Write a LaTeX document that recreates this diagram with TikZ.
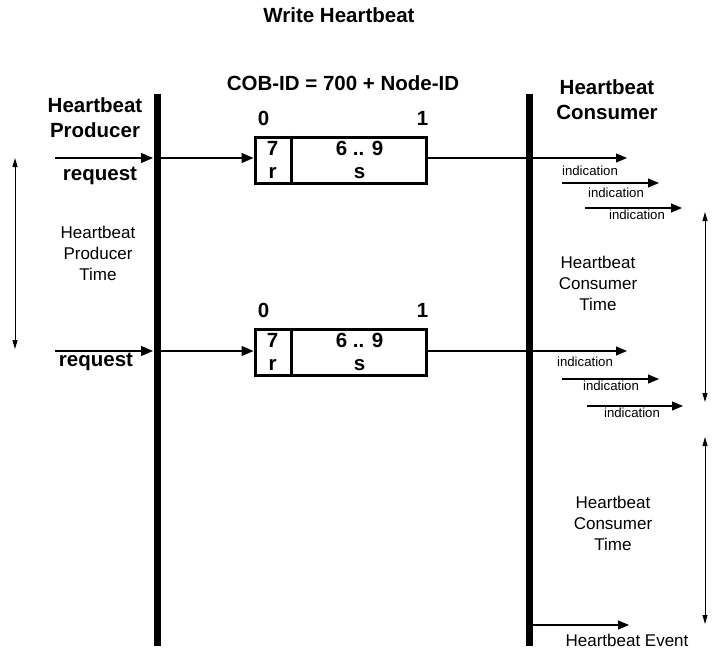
\documentclass[tikz,border=0pt]{standalone}
\usepackage{fontspec}
\setmainfont{Liberation Sans}
\usetikzlibrary{arrows.meta}
\tikzset{
  bold/.style={font=\fontsize{20.5}{25}\selectfont\bfseries,align=center},
  plain/.style={font=\fontsize{17}{21}\selectfont,align=center},
  tiny/.style={font=\fontsize{13.2}{14}\selectfont},
  msg/.style={draw,line width=3pt,minimum width=171pt,minimum height=46pt,inner sep=0pt},
  bar/.style={line width=7pt},
  sig/.style={line width=1.2pt,-{Triangle[length=12pt,width=10pt]}},
  ind/.style={line width=1.2pt,-{Triangle[length=11pt,width=9pt]}},
  span/.style={line width=1pt,{Triangle[length=9pt,width=5pt]}-{Triangle[length=9pt,width=5pt]}}
}
\begin{document}
\begin{tikzpicture}[x=1pt,y=-1pt,line join=miter]
\useasboundingbox (0,0) rectangle (714,650);
% titles
\node[bold] (title) at (339,15) {Write Heartbeat};
\node[bold] (cobid) at (343,83) {COB-ID = 700 + Node-ID};
\node[bold] (prod) at (95,118) {Heartbeat\\Producer};
\node[bold] (cons) at (607,100) {Heartbeat\\Consumer};
% the two lines
\coordinate (pT) at (157,94); \coordinate (pB) at (157,646);
\coordinate (cT) at (529.5,94); \coordinate (cB) at (529.5,646);
\draw[bar] (pT) -- (pB);
\draw[bar] (cT) -- (cB);
% messages
\foreach \i/\y in {A/160,B/352}{
  \node[msg] (msg\i) at (340.5,\y) {};
  \draw[line width=3pt] ([xshift=38pt]msg\i.north west) -- ([xshift=38pt]msg\i.south west);
  \node[bold] (zero\i) at ([shift={(10,-17)}]msg\i.north west) {0};
  \node[bold] (one\i) at ([shift={(-5,-17)}]msg\i.north east) {1};
  \node[bold] (seven\i) at ([shift={(19,-12)}]msg\i.west) {7};
  \node[bold] (r\i) at ([shift={(19,13)}]msg\i.west) {r};
  \node[bold] (nine\i) at ([shift={(19,-12)}]msg\i.center) {6 .. 9};
  \node[bold] (s\i) at ([shift={(19,13)}]msg\i.center) {s};
}
% arrows of the first message
\coordinate (inA) at (55,158);
\coordinate (pA) at (153,158); \coordinate (pA2) at (160,158);
\coordinate (cA) at (526,158); \coordinate (cA2) at (533,158);
\coordinate (oA) at (627,158);
\draw[sig] (inA) -- (pA);
\draw[sig] (pA2) -- (msgA.west |- pA2);
\draw[line width=1.2pt] (msgA.east |- cA) -- (cA);
\draw[ind] (cA2) -- (oA);
\node[bold] (reqA) at (100,176) {request};
% arrows of the second message
\coordinate (inB) at (55,351);
\coordinate (pB1) at (153,351); \coordinate (pB2) at (160,351);
\coordinate (cB1) at (526,351); \coordinate (cB2) at (533,351);
\coordinate (oB) at (627,351);
\draw[sig] (inB) -- (pB1);
\draw[sig] (pB2) -- (msgB.west |- pB2);
\draw[line width=1.2pt] (msgB.east |- cB1) -- (cB1);
\draw[ind] (cB2) -- (oB);
\node[bold] (reqB) at (96,362) {request};
% indications
\node[tiny] (indA1) at (590,171) {indication};
\coordinate (a2s) at (562,183); \coordinate (a2e) at (659,183);
\draw[ind] (a2s) -- (a2e);
\node[tiny] (indA2) at (616,193) {indication};
\coordinate (a3s) at (585,208); \coordinate (a3e) at (682,208);
\draw[ind] (a3s) -- (a3e);
\node[tiny] (indA3) at (637,215) {indication};
\node[tiny] (indB1) at (585,362) {indication};
\coordinate (b2s) at (562,379); \coordinate (b2e) at (659,379);
\draw[ind] (b2s) -- (b2e);
\node[tiny] (indB2) at (611,386) {indication};
\coordinate (b3s) at (587,406); \coordinate (b3e) at (683,406);
\draw[ind] (b3s) -- (b3e);
\node[tiny] (indB3) at (632,413) {indication};
% time spans
\coordinate (tp1) at (15,158); \coordinate (tp2) at (15,349);
\draw[span] (tp1) -- (tp2);
\node[plain] (ptime) at (98,253) {Heartbeat\\Producer\\Time};
\coordinate (tc1) at (705,212); \coordinate (tc2) at (705,402);
\draw[span] (tc1) -- (tc2);
\node[plain] (ctime1) at (598,283) {Heartbeat\\Consumer\\Time};
\coordinate (td1) at (705,437); \coordinate (td2) at (705,624);
\draw[span] (td1) -- (td2);
\node[plain] (ctime2) at (613,523) {Heartbeat\\Consumer\\Time};
% heartbeat event
\coordinate (ev1) at (533,625); \coordinate (ev2) at (629,625);
\draw[ind] (ev1) -- (ev2);
\node[plain,inner sep=1pt] (event) at (627,640) {Heartbeat Event};
\end{tikzpicture}
\end{document}
